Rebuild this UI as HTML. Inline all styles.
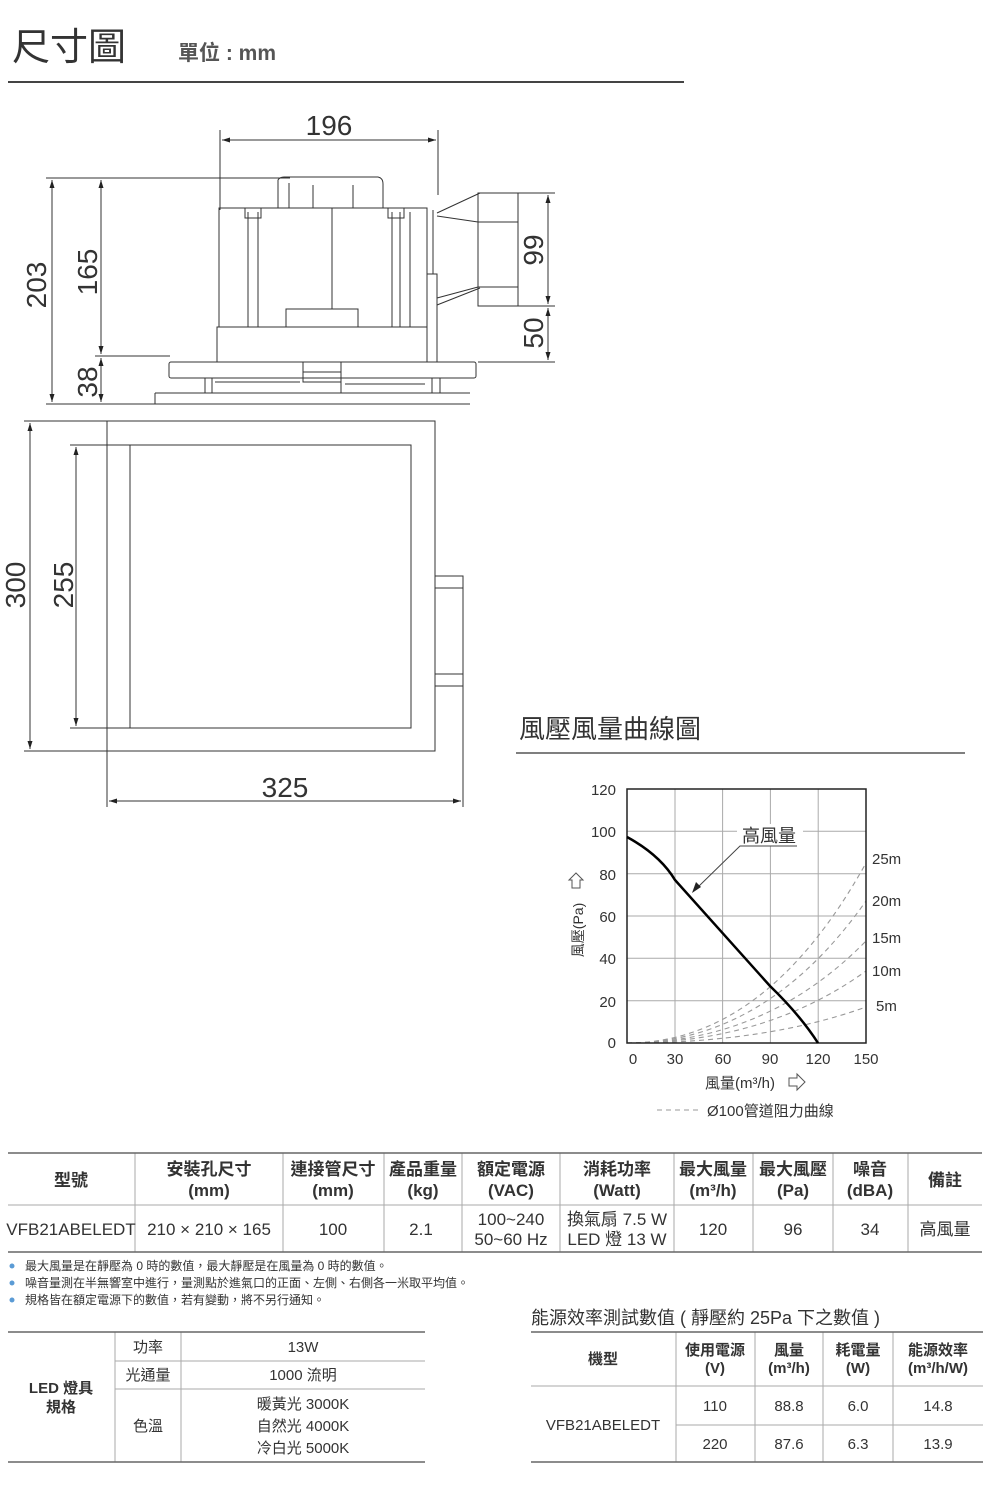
<!DOCTYPE html>
<html><head><meta charset="utf-8"><style>
html,body{margin:0;padding:0;background:#fff;}
svg{display:block;font-family:"Liberation Sans","Noto Sans CJK TC",sans-serif;}
</style></head><body>
<svg width="1000" height="1500" viewBox="0 0 1000 1500" xmlns="http://www.w3.org/2000/svg">
<defs>
<marker id="a" markerWidth="8" markerHeight="8" refX="8" refY="4" orient="auto-start-reverse" markerUnits="userSpaceOnUse"><path d="M0,1.5 L8,4 L0,6.5 Z" fill="#222"/></marker>
</defs>
<!-- header -->
<text x="12" y="60" font-size="38" fill="#333">尺寸圖</text>
<text x="178" y="60" font-size="21" font-weight="bold" fill="#555">單位 : mm</text>
<line x1="8" y1="82" x2="684" y2="82" stroke="#444" stroke-width="2"/>

<g stroke="#333" stroke-width="1" fill="none">
<!-- 196 dim -->
<line x1="220" y1="130" x2="220" y2="210"/><line x1="438" y1="130" x2="438" y2="195"/>
<line x1="222" y1="140" x2="436" y2="140" marker-start="url(#a)" marker-end="url(#a)"/>
<!-- left dims -->
<line x1="46" y1="178" x2="290" y2="178"/>
<line x1="95" y1="356" x2="170" y2="356"/>
<line x1="46" y1="404" x2="155" y2="404"/>
<line x1="52" y1="180" x2="52" y2="402" marker-start="url(#a)" marker-end="url(#a)"/>
<line x1="101" y1="180" x2="101" y2="354" marker-start="url(#a)" marker-end="url(#a)"/>
<line x1="101" y1="358" x2="101" y2="402" marker-start="url(#a)" marker-end="url(#a)"/>
<!-- right dims -->
<line x1="480" y1="193" x2="555" y2="193"/><line x1="518" y1="306" x2="555" y2="306"/><line x1="478" y1="362" x2="555" y2="362"/>
<line x1="548" y1="195" x2="548" y2="304" marker-start="url(#a)" marker-end="url(#a)"/>
<line x1="548" y1="308" x2="548" y2="360" marker-start="url(#a)" marker-end="url(#a)"/>
<!-- unit -->
<path d="M278,208 L278,180 Q280,177 284,177 L378,177 Q383,178 383,184 L383,208"/>
<rect x="219" y="208" width="208" height="119"/>
<path d="M217,362 L217,327 L286,327 L286,309 L358,309 L358,327 L427,327"/>
<line x1="332" y1="208" x2="332" y2="309"/>
<line x1="248" y1="212" x2="248" y2="327"/><line x1="258" y1="212" x2="258" y2="327"/>
<rect x="245" y="208" width="16" height="10"/><rect x="388" y="208" width="16" height="10"/>
<line x1="392" y1="212" x2="392" y2="327"/><line x1="400" y1="212" x2="400" y2="327"/><line x1="410" y1="212" x2="410" y2="327"/>
<rect x="427" y="274" width="10" height="88"/><line x1="427" y1="208" x2="427" y2="274"/><line x1="433" y1="210" x2="433" y2="274"/>
<line x1="289" y1="183" x2="289" y2="208"/><line x1="313" y1="185" x2="313" y2="208"/><line x1="353" y1="185" x2="353" y2="208"/>
<path d="M437,213 L480,193 M437,216 L478,222 M437,305 L480,288 M437,298 L478,287"/>
<rect x="478" y="193" width="40" height="113"/><line x1="478" y1="222" x2="518" y2="222"/><line x1="478" y1="287" x2="518" y2="287"/>
<rect x="169" y="362" width="307" height="16" rx="2"/>
<rect x="303" y="362" width="38" height="20"/><line x1="303" y1="372" x2="341" y2="372"/>
<path d="M205,378 L205,393 M212,378 L212,393 M341,382 L341,393 L440,393 L440,378 M432,378 L432,393"/>
<line x1="215" y1="382" x2="300" y2="382"/><line x1="345" y1="384" x2="425" y2="384"/>
<path d="M155,393 L470,393 M155,393 L155,404 L470,404"/>
<!-- bottom view -->
<rect x="107" y="421" width="328" height="330"/>
<rect x="130" y="445" width="281" height="283"/>
<rect x="435" y="576" width="28" height="110"/>
<line x1="435" y1="588" x2="463" y2="588"/><line x1="435" y1="674" x2="463" y2="674"/>
<line x1="24" y1="421" x2="107" y2="421"/><line x1="24" y1="751" x2="107" y2="751"/>
<line x1="70" y1="445" x2="130" y2="445"/><line x1="70" y1="728" x2="130" y2="728"/>
<line x1="30" y1="423" x2="30" y2="749" marker-start="url(#a)" marker-end="url(#a)"/>
<line x1="76" y1="447" x2="76" y2="726" marker-start="url(#a)" marker-end="url(#a)"/>
<line x1="107" y1="751" x2="107" y2="807"/><line x1="463" y1="686" x2="463" y2="807"/>
<line x1="109" y1="801" x2="461" y2="801" marker-start="url(#a)" marker-end="url(#a)"/>
</g>
<g font-size="28" fill="#333">
<text x="329" y="135" text-anchor="middle">196</text>
<text x="285" y="797" text-anchor="middle">325</text>
<text transform="translate(46,285) rotate(-90)" text-anchor="middle">203</text>
<text transform="translate(97,272) rotate(-90)" text-anchor="middle">165</text>
<text transform="translate(97,382) rotate(-90)" text-anchor="middle">38</text>
<text transform="translate(543,250) rotate(-90)" text-anchor="middle">99</text>
<text transform="translate(543,333) rotate(-90)" text-anchor="middle">50</text>
<text transform="translate(25,585) rotate(-90)" text-anchor="middle">300</text>
<text transform="translate(73,585) rotate(-90)" text-anchor="middle">255</text>
</g>

<!-- chart -->
<text x="519" y="738" font-size="26" fill="#333">風壓風量曲線圖</text>
<line x1="516" y1="753" x2="965" y2="753" stroke="#555" stroke-width="1.5"/>
<g stroke="#aaa" stroke-width="1">
<line x1="675" y1="789" x2="675" y2="1043"/><line x1="722.6" y1="789" x2="722.6" y2="1043"/><line x1="770.4" y1="789" x2="770.4" y2="1043"/><line x1="818.2" y1="789" x2="818.2" y2="1043"/>
<line x1="627" y1="1000.7" x2="866" y2="1000.7"/><line x1="627" y1="958.3" x2="866" y2="958.3"/><line x1="627" y1="916" x2="866" y2="916"/><line x1="627" y1="873.7" x2="866" y2="873.7"/><line x1="627" y1="831.3" x2="866" y2="831.3"/>
</g>
<rect x="737" y="824" width="66" height="22" fill="#fff"/>
<g stroke="#999" stroke-width="1.1" stroke-dasharray="5,4" fill="none">
<path d="M627,1043 Q766,1043 866,863"/>
<path d="M627,1043 Q766,1043 866,901"/>
<path d="M627,1043 Q766,1043 866,941"/>
<path d="M627,1043 Q766,1043 866,971"/>
<path d="M627,1043 Q766,1043 866,1007"/>
</g>
<rect x="627" y="789" width="239" height="254" fill="none" stroke="#222" stroke-width="1.5"/>
<path d="M627,837 Q660,855 675,880 L770,986 Q800,1015 818,1043" fill="none" stroke="#000" stroke-width="2.5"/>
<path d="M797,846 L740,846 L697,888" fill="none" stroke="#444" stroke-width="1"/>
<path d="M692,893 L696,882 L701,887 Z" fill="#222"/>
<text x="769" y="842" font-size="18" fill="#333" text-anchor="middle">高風量</text>
<g font-size="15" fill="#333">
<text x="616" y="795" text-anchor="end">120</text><text x="616" y="837" text-anchor="end">100</text><text x="616" y="880" text-anchor="end">80</text><text x="616" y="922" text-anchor="end">60</text><text x="616" y="964" text-anchor="end">40</text><text x="616" y="1007" text-anchor="end">20</text><text x="616" y="1048" text-anchor="end">0</text>
<text x="633" y="1064" text-anchor="middle">0</text><text x="675" y="1064" text-anchor="middle">30</text><text x="723" y="1064" text-anchor="middle">60</text><text x="770" y="1064" text-anchor="middle">90</text><text x="818" y="1064" text-anchor="middle">120</text><text x="866" y="1064" text-anchor="middle">150</text>
<text x="872" y="864">25m</text><text x="872" y="906">20m</text><text x="872" y="943">15m</text><text x="872" y="976">10m</text><text x="876" y="1011">5m</text>
<text x="705" y="1088">風量(m³/h)</text>
<text x="707" y="1116">Ø100管道阻力曲線</text>
<text transform="translate(583,930) rotate(-90)" text-anchor="middle" font-size="14">風壓(Pa)</text>
</g>
<path d="M576,873 L583,880 L580,880 L580,888 L572,888 L572,880 L569,880 Z" fill="none" stroke="#555"/>
<path d="M789,1078 L797,1078 L797,1074 L805,1082 L797,1090 L797,1086 L789,1086 Z" fill="none" stroke="#555"/>
<line x1="657" y1="1110" x2="700" y2="1110" stroke="#999" stroke-dasharray="5,4"/>

<!-- table 1 -->
<g stroke="#aaa" stroke-width="1">
<line x1="135" y1="1153" x2="135" y2="1252"/><line x1="283" y1="1153" x2="283" y2="1252"/><line x1="384" y1="1153" x2="384" y2="1252"/><line x1="462" y1="1153" x2="462" y2="1252"/><line x1="560" y1="1153" x2="560" y2="1252"/><line x1="674" y1="1153" x2="674" y2="1252"/><line x1="753" y1="1153" x2="753" y2="1252"/><line x1="833" y1="1153" x2="833" y2="1252"/><line x1="908" y1="1153" x2="908" y2="1252"/>
<line x1="8" y1="1205" x2="982" y2="1205"/>
</g>
<line x1="8" y1="1153" x2="982" y2="1153" stroke="#666" stroke-width="1.5"/>
<line x1="8" y1="1252" x2="982" y2="1252" stroke="#666" stroke-width="1.5"/>
<g font-size="17" font-weight="bold" fill="#333" text-anchor="middle">
<text x="71" y="1186">型號</text>
<text x="209" y="1175">安裝孔尺寸</text><text x="209" y="1196">(mm)</text>
<text x="333" y="1175">連接管尺寸</text><text x="333" y="1196">(mm)</text>
<text x="423" y="1175">產品重量</text><text x="423" y="1196">(kg)</text>
<text x="511" y="1175">額定電源</text><text x="511" y="1196">(VAC)</text>
<text x="617" y="1175">消耗功率</text><text x="617" y="1196">(Watt)</text>
<text x="713" y="1175">最大風量</text><text x="713" y="1196">(m³/h)</text>
<text x="793" y="1175">最大風壓</text><text x="793" y="1196">(Pa)</text>
<text x="870" y="1175">噪音</text><text x="870" y="1196">(dBA)</text>
<text x="945" y="1186">備註</text>
</g>
<g font-size="17" fill="#333" text-anchor="middle">
<text x="71" y="1235">VFB21ABELEDT</text>
<text x="209" y="1235">210 × 210 × 165</text>
<text x="333" y="1235">100</text><text x="421" y="1235">2.1</text>
<text x="511" y="1225">100~240</text><text x="511" y="1245">50~60 Hz</text>
<text x="617" y="1225">換氣扇 7.5 W</text><text x="617" y="1245">LED 燈 13 W</text>
<text x="713" y="1235">120</text><text x="793" y="1235">96</text><text x="870" y="1235">34</text><text x="945" y="1235">高風量</text>
</g>
<g font-size="12" fill="#333">
<circle cx="12" cy="1266" r="2.5" fill="#5b9bd5"/><text x="25" y="1270">最大風量是在靜壓為 0 時的數值，最大靜壓是在風量為 0 時的數值。</text>
<circle cx="12" cy="1283" r="2.5" fill="#5b9bd5"/><text x="25" y="1287">噪音量測在半無響室中進行，量測點於進氣口的正面、左側、右側各一米取平均值。</text>
<circle cx="12" cy="1300" r="2.5" fill="#5b9bd5"/><text x="25" y="1304">規格皆在額定電源下的數值，若有變動，將不另行通知。</text>
</g>

<!-- LED table -->
<g stroke="#aaa" stroke-width="1">
<line x1="115" y1="1332" x2="115" y2="1462"/><line x1="181" y1="1332" x2="181" y2="1462"/>
<line x1="115" y1="1361" x2="425" y2="1361"/><line x1="115" y1="1389" x2="425" y2="1389"/>
</g>
<line x1="8" y1="1332" x2="425" y2="1332" stroke="#666" stroke-width="1.5"/>
<line x1="8" y1="1462" x2="425" y2="1462" stroke="#666" stroke-width="1.5"/>
<g font-size="15" fill="#333" text-anchor="middle">
<text x="61" y="1393" font-weight="bold">LED 燈具</text><text x="61" y="1412" font-weight="bold">規格</text>
<text x="148" y="1352">功率</text><text x="148" y="1380">光通量</text><text x="148" y="1431">色溫</text>
<text x="303" y="1352">13W</text><text x="303" y="1380">1000 流明</text>
<text x="303" y="1409">暖黃光 3000K</text><text x="303" y="1431">自然光 4000K</text><text x="303" y="1453">冷白光 5000K</text>
</g>

<!-- energy table -->
<text x="531" y="1324" font-size="18" fill="#333">能源效率測試數值 ( 靜壓約 25Pa 下之數值 )</text>
<g stroke="#aaa" stroke-width="1">
<line x1="676" y1="1332" x2="676" y2="1462"/><line x1="755" y1="1332" x2="755" y2="1462"/><line x1="823" y1="1332" x2="823" y2="1462"/><line x1="893" y1="1332" x2="893" y2="1462"/>
<line x1="531" y1="1386" x2="983" y2="1386"/><line x1="676" y1="1425" x2="983" y2="1425"/>
</g>
<line x1="531" y1="1332" x2="983" y2="1332" stroke="#666" stroke-width="1.5"/>
<line x1="531" y1="1462" x2="983" y2="1462" stroke="#666" stroke-width="1.5"/>
<g font-size="15" fill="#333" text-anchor="middle">
<g font-weight="bold">
<text x="603" y="1364">機型</text>
<text x="715" y="1355">使用電源</text><text x="715" y="1373">(V)</text>
<text x="789" y="1355">風量</text><text x="789" y="1373">(m³/h)</text>
<text x="858" y="1355">耗電量</text><text x="858" y="1373">(W)</text>
<text x="938" y="1355">能源效率</text><text x="938" y="1373">(m³/h/W)</text>
</g>
<text x="603" y="1430">VFB21ABELEDT</text>
<text x="715" y="1411">110</text><text x="789" y="1411">88.8</text><text x="858" y="1411">6.0</text><text x="938" y="1411">14.8</text>
<text x="715" y="1449">220</text><text x="789" y="1449">87.6</text><text x="858" y="1449">6.3</text><text x="938" y="1449">13.9</text>
</g>
</svg>
</body></html>
